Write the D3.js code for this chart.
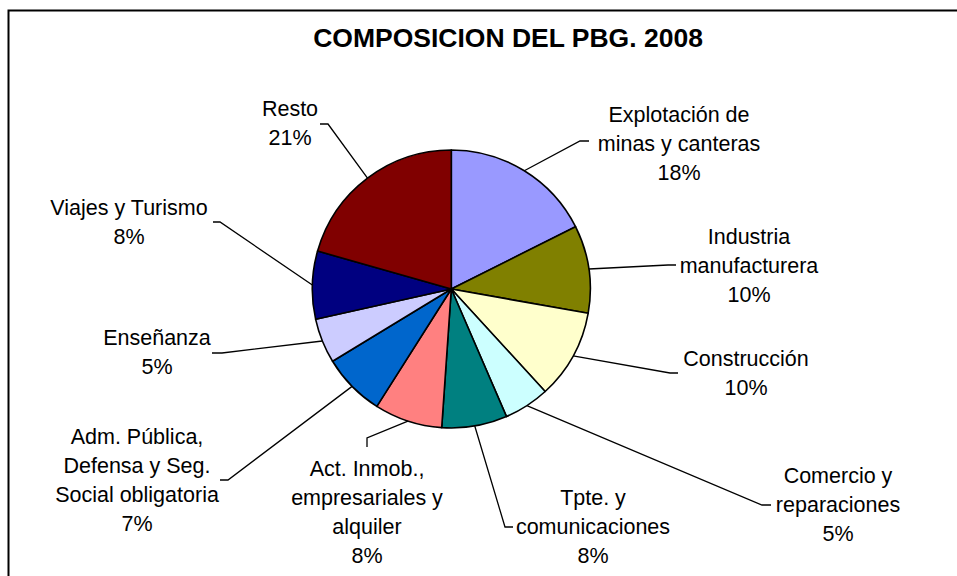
<!DOCTYPE html>
<html>
<head>
<meta charset="utf-8">
<script src="https://cdn.jsdelivr.net/npm/d3@7"></script>
<style>
  html, body { margin: 0; padding: 0; background: #ffffff; }
  svg { display: block; }
  text { font-family: "Liberation Sans", Arial, sans-serif; fill: #000; }
</style>
</head>
<body>
<svg id="chart" width="957" height="576"></svg>
<script>
// ---- data ----
const title = "COMPOSICION DEL PBG. 2008";
const categories = [
  "Explotación de\nminas y canteras",
  "Industria\nmanufacturera",
  "Construcción",
  "Comercio y\nreparaciones",
  "Tpte. y\ncomunicaciones",
  "Act. Inmob.,\nempresariales y\nalquiler",
  "Adm. Pública,\nDefensa y Seg.\nSocial obligatoria",
  "Enseñanza",
  "Viajes y Turismo",
  "Resto"
];
const shares = [17.6, 10.2, 10.4, 5.3, 7.6, 7.9, 7.3, 5.2, 7.9, 20.6];
const colors = ["#9999FF", "#808000", "#FFFFCC", "#CCFFFF", "#008080",
                "#FF8080", "#0066CC", "#CCCCFF", "#000080", "#800000"];

// ---- layout (label centre x, first baseline y, leader elbow and end) ----
const labelLayout = [
  { cx: 679, y: 122, elbow: [580, 141], end: [589, 141] },
  { cx: 749, y: 244, elbow: [668, 265], end: [676, 265] },
  { cx: 746, y: 366, elbow: [670, 373], end: [678, 373] },
  { cx: 838, y: 483, elbow: [762, 505], end: [771, 505] },
  { cx: 593, y: 505, elbow: [505, 527], end: [513, 527] },
  { cx: 367, y: 476, elbow: [367, 438], end: [367, 447] },
  { cx: 137, y: 444, elbow: [228, 480], end: [220, 480] },
  { cx: 157, y: 345, elbow: [222, 353], end: [212, 353] },
  { cx: 129, y: 215, elbow: [220, 222], end: [213, 222] },
  { cx: 290, y: 116, elbow: [328, 124], end: [320, 124] }
];

const svg = d3.select("#chart");
const cx = 451.3, cy = 289, R = 139;
const lineH = 29;

// frame (extends past the right and bottom edges)
svg.append("rect")
  .attr("x", 8.5).attr("y", 10.5)
  .attr("width", 1100).attr("height", 700)
  .attr("fill", "#fff").attr("stroke", "#000").attr("stroke-width", 2);

// title
svg.append("text")
  .attr("x", 508).attr("y", 47)
  .attr("text-anchor", "middle")
  .style("font-size", "26.5px").style("font-weight", "bold")
  .text(title);

const pie = d3.pie().sort(null).value(d => d)(shares);
const arc = d3.arc().innerRadius(0).outerRadius(R);
const edge = d3.arc().innerRadius(R).outerRadius(R);

const g = svg.append("g").attr("transform", `translate(${cx},${cy})`);
g.selectAll("path.slice")
  .data(pie)
  .join("path")
  .attr("class", "slice")
  .attr("d", arc)
  .attr("fill", (d, i) => colors[i])
  .attr("stroke", "#000")
  .attr("stroke-width", 1.6)
  .attr("stroke-linejoin", "round");

// leader lines
const fmt = v => Math.round(v) + "%";
pie.forEach((d, i) => {
  const p = edge.centroid(d);
  const L = labelLayout[i];
  const pts = [[cx + p[0], cy + p[1]], L.elbow, L.end];
  svg.append("path")
    .attr("d", d3.line()(pts))
    .attr("fill", "none")
    .attr("stroke", "#000")
    .attr("stroke-width", 1.3);

  const lines = categories[i].split("\n").concat([fmt(shares[i])]);
  const t = svg.append("text")
    .attr("text-anchor", "middle")
    .style("font-size", "21.5px");
  lines.forEach((s, k) => {
    t.append("tspan")
      .attr("x", L.cx)
      .attr("y", L.y + k * lineH)
      .text(s);
  });
});
</script>
</body>
</html>
